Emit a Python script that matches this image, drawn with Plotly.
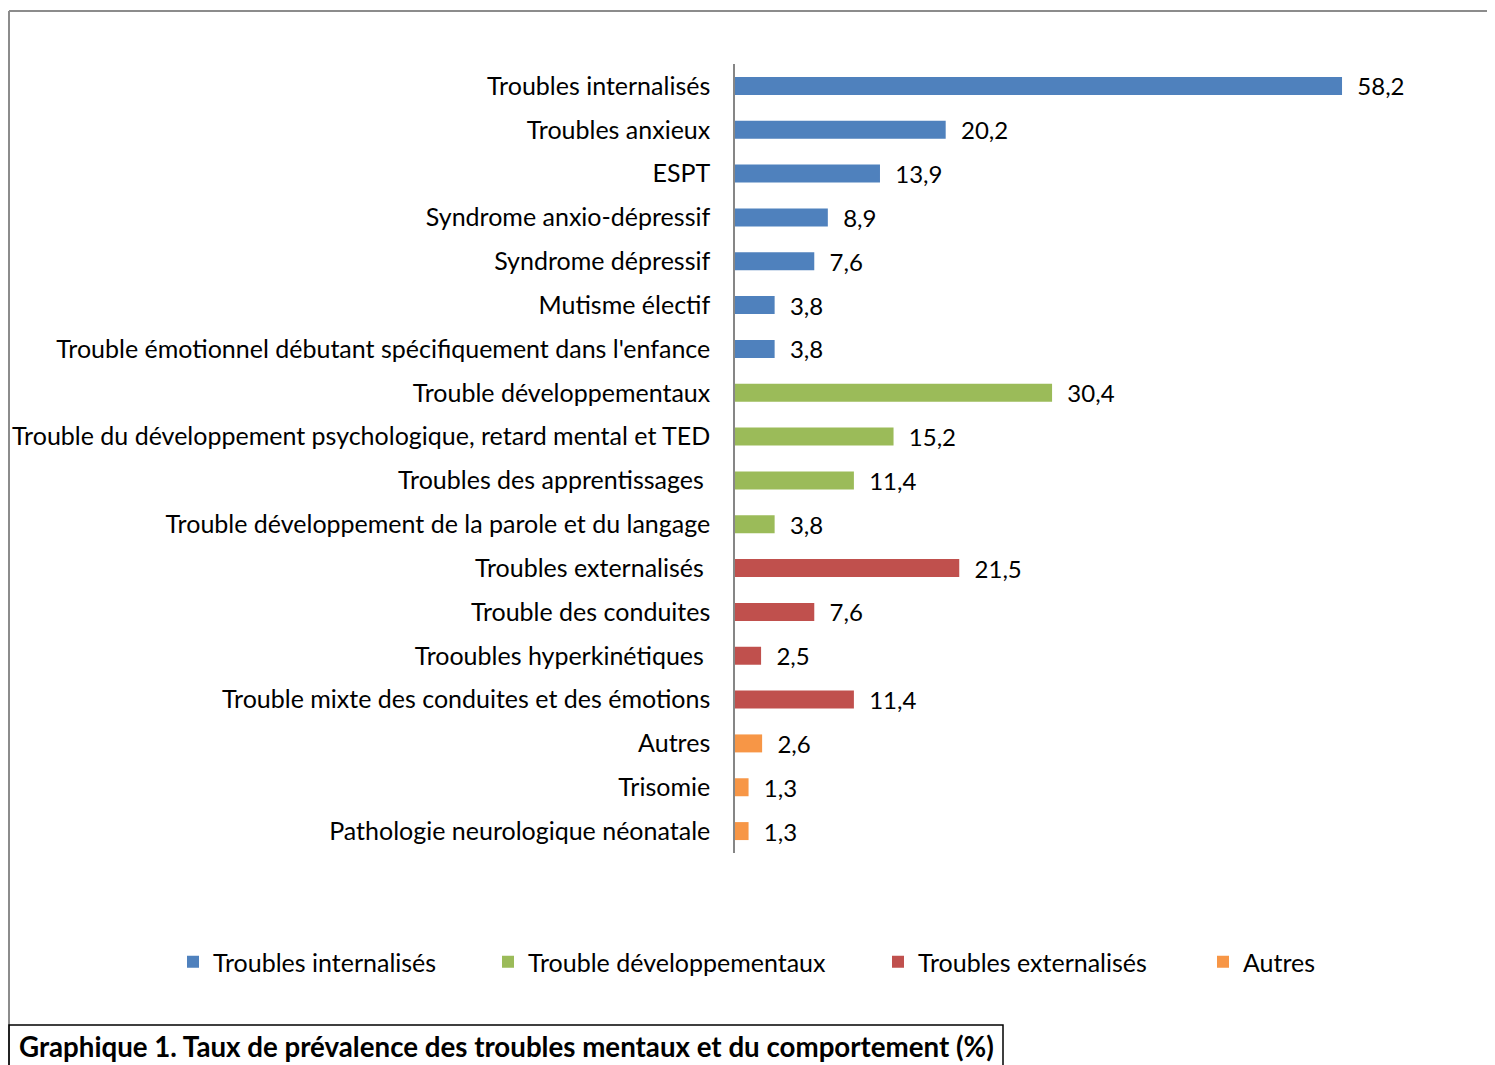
import plotly.graph_objects as go

# data
groups = ['Troubles internalisés', 'Trouble développementaux', 'Troubles externalisés', 'Autres']
colors = ['#4F81BD', '#9BBB59', '#C0504D', '#F79646']

internalises = ['Troubles internalisés', 'Troubles anxieux', 'ESPT', 'Syndrome anxio-dépressif',
                'Syndrome dépressif', 'Mutisme électif',
                "Trouble émotionnel débutant spécifiquement dans l'enfance"]
internalises_val = [58.2, 20.2, 13.9, 8.9, 7.6, 3.8, 3.8]

developpementaux = ['Trouble développementaux',
                    'Trouble du développement psychologique, retard mental et TED',
                    'Troubles des apprentissages ',
                    'Trouble développement de la parole et du langage']
developpementaux_val = [30.4, 15.2, 11.4, 3.8]

externalises = ['Troubles externalisés ', 'Trouble des conduites', 'Trooubles hyperkinétiques ',
                'Trouble mixte des conduites et des émotions']
externalises_val = [21.5, 7.6, 2.5, 11.4]

autres = ['Autres', 'Trisomie', 'Pathologie neurologique néonatale']
autres_val = [2.6, 1.3, 1.3]

cats = [internalises, developpementaux, externalises, autres]
vals = [internalises_val, developpementaux_val, externalises_val, autres_val]

W, H = 1495, 1065
OFF = 8  # page margin of the html body
ml, mr, mt, mb = 735 - OFF, 30, 64 - OFF, H - (853 - OFF)
pw = W - ml - mr
ph = H - mt - mb
font = 'Lato, Calibri, sans-serif'


# reference pixel -> paper coords
def px2x(px):
    return (px - OFF - ml) / pw


def px2y(py):
    return (H - mb - (py - OFF)) / ph


fig = go.Figure()
legend_text_x = [213, 528, 918, 1243]
for i in range(4):
    lname = 'legend' if i == 0 else 'legend%d' % (i + 1)
    fig.add_trace(go.Bar(
        y=cats[i], x=vals[i], orientation='h', name=groups[i],
        marker=dict(color=colors[i], line=dict(width=0)),
        text=['\u00a0\u00a0' + str(v).replace('.', ',') for v in vals[i]],
        textposition='outside', cliponaxis=False, constraintext='none',
        textfont=dict(size=24, color='black', family=font),
        legend=lname, showlegend=True,
    ))
    fig.update_layout({lname: dict(
        orientation='h', xref='container', yref='container',
        x=(legend_text_x[i] - OFF - 40) / W, y=1 - (962 - OFF) / H,
        xanchor='left', yanchor='middle',
        font=dict(size=25, color='black', family=font),
        itemwidth=30, bgcolor='rgba(0,0,0,0)',
    )})

order = internalises + developpementaux + externalises + autres

fig.update_layout(
    width=W, height=H, showlegend=True,
    margin=dict(l=ml, r=mr, t=mt, b=mb, autoexpand=False),
    paper_bgcolor='white', plot_bgcolor='white',
    barmode='overlay', bargap=0.59,
    font=dict(family=font, size=25, color='black'),
    xaxis=dict(range=[0, pw / 10.43], visible=False, fixedrange=True, automargin=False),
    yaxis=dict(categoryorder='array', categoryarray=order[::-1], automargin=False,
               showline=True, linecolor='#868686', linewidth=1.5,
               ticks='', showgrid=False, ticklabelstandoff=18,
               tickfont=dict(size=25, color='black', family=font)),
    shapes=[
        dict(type='line', xref='paper', yref='paper', x0=px2x(9), x1=px2x(1510),
             y0=px2y(11), y1=px2y(11), line=dict(color='#8c8c8c', width=2)),
        dict(type='line', xref='paper', yref='paper', x0=px2x(9), x1=px2x(9),
             y0=px2y(11), y1=px2y(1080), line=dict(color='#8c8c8c', width=2)),
        dict(type='rect', xref='paper', yref='paper', x0=px2x(9), x1=px2x(1003),
             y0=px2y(1025), y1=px2y(1090), line=dict(color='black', width=1.5)),
    ],
    annotations=[dict(
        xref='paper', yref='paper', x=px2x(17), y=px2y(1046),
        xanchor='left', yanchor='middle', showarrow=False,
        text='<b>Graphique 1. Taux de prévalence des troubles mentaux et du comportement (%)</b>',
        font=dict(size=27.7, color='black', family=font),
    )],
)

fig.write_html('out.html')
